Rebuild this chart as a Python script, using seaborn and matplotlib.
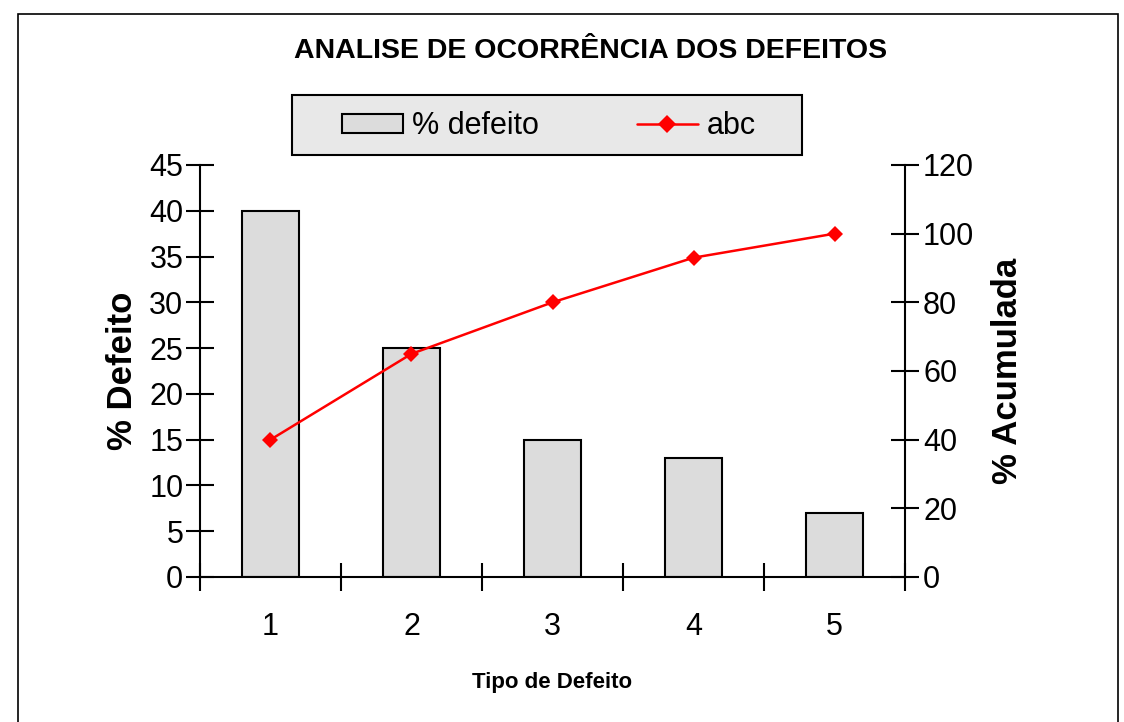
import matplotlib
matplotlib.use("Agg")
import matplotlib.pyplot as plt
from matplotlib.patches import Rectangle, Patch
from matplotlib.lines import Line2D
from matplotlib.ticker import FixedLocator, MultipleLocator
import seaborn as sns
import pandas as pd

# Pareto data: share of each defect type and running total
tipos = ["1", "2", "3", "4", "5"]
pct_defeito = [40, 25, 15, 13, 7]
pct_acumulada = [40, 65, 80, 93, 100]

titulo = "ANALISE DE OCORRÊNCIA DOS DEFEITOS"
left_ticks = list(range(0, 46, 5))
right_ticks = list(range(0, 121, 20))

sns.set_theme(style="white")
font = ["Liberation Sans", "DejaVu Sans"]
plt.rcParams["font.family"] = font
for key in ("text.color", "axes.labelcolor", "xtick.color", "ytick.color"):
    plt.rcParams[key] = "black"

df = pd.DataFrame({"tipo": tipos, "defeito": pct_defeito, "acum": pct_acumulada})

W, H = 1124, 722
fig = plt.figure(figsize=(W / 100, H / 100), dpi=100)
fig.patch.set_facecolor("white")

# outer frame of the chart area
fig.patches.append(Rectangle((18 / W, -0.05), 1100 / W, 1.05 - 14 / H,
                             transform=fig.transFigure, fill=False,
                             edgecolor="black", linewidth=1.2, zorder=0))

ax = fig.add_axes([200 / W, 1 - 577 / H, 705 / W, 412 / H])
sns.barplot(data=df, x="tipo", y="defeito", ax=ax, color="#dcdcdc",
            width=0.41, edgecolor="black", linewidth=1.5, saturation=1)
ax.set_xlim(-0.5, 4.5)
ax.set_ylim(0, 45)
ax.yaxis.set_major_locator(FixedLocator(left_ticks))

ax2 = ax.twinx()
ax2.plot(range(len(tipos)), df["acum"], color="#ff0000", linewidth=1.8,
         marker="D", markersize=8.5, markeredgewidth=0, zorder=5)
ax2.set_ylim(0, 120)
ax2.yaxis.set_major_locator(FixedLocator(right_ticks))

for a in (ax, ax2):
    for s in a.spines.values():
        s.set_linewidth(1.5)
        s.set_color("black")
    a.spines["top"].set_visible(False)
    a.set_facecolor("none")
ax.spines["right"].set_visible(False)
ax2.spines["left"].set_visible(False)
ax2.spines["bottom"].set_visible(False)

# x axis: labels at bar centres, tick marks at category boundaries
ax.xaxis.set_minor_locator(MultipleLocator(1, offset=0.5))
ax.tick_params(axis="x", which="major", length=0, pad=25, labelsize=22)
ax.tick_params(axis="x", which="minor", bottom=True, direction="inout",
               length=20, width=1.5, color="black")
ax.tick_params(axis="y", left=True, direction="inout", length=20, width=1.5,
               color="black", labelsize=22, pad=2)
ax2.tick_params(axis="y", right=True, direction="inout", length=20, width=1.5,
                color="black", labelsize=22, pad=3)

ax.set_xlabel("Tipo de Defeito", fontsize=16, fontweight="bold", labelpad=22)
ax.set_ylabel("% Defeito", fontsize=25, fontweight="bold", labelpad=7)
ax2.set_ylabel("% Acumulada", fontsize=25, fontweight="bold", labelpad=12)

fig.text(591 / W, 1 - 51 / H, titulo, ha="center", va="center",
         fontsize=20.5, fontweight="bold")

# legend box
fig.patches.append(Rectangle((292 / W, 1 - 155 / H), 510 / W, 60 / H,
                             transform=fig.transFigure, facecolor="#e8e8e8",
                             edgecolor="black", linewidth=1.5, zorder=1))
handles = [
    Patch(facecolor="#dcdcdc", edgecolor="black", linewidth=1.5, label="% defeito"),
    Line2D([0], [0], color="#ff0000", linewidth=1.8, marker="D", markersize=9,
           markeredgewidth=0, label="abc"),
]
leg = fig.legend(handles=handles, loc="center", ncol=2,
                 bbox_to_anchor=(549 / W, 1 - 126 / H), frameon=False,
                 fontsize=22, handlelength=2.0, handleheight=0.6,
                 handletextpad=0.3, columnspacing=3.2)
leg.set_zorder(2)

fig.savefig("out.png", dpi=100)
